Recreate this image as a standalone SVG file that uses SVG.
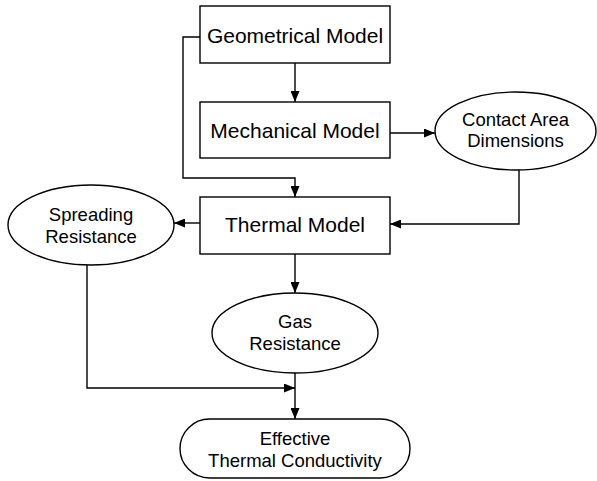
<svg xmlns="http://www.w3.org/2000/svg" width="597" height="481" viewBox="0 0 597 481">
<style>
.n{fill:#fff;stroke:#000;stroke-width:1.4}
.c{fill:none;stroke:#000;stroke-width:1.4}
.t{font-family:"Liberation Sans",Arial,sans-serif;fill:#000;text-anchor:middle}
.big{font-size:21px}
.sm{font-size:18.5px}
</style>
<defs>
<marker id="ah" markerWidth="11" markerHeight="9" refX="11" refY="4.5" orient="auto" markerUnits="userSpaceOnUse">
<path d="M0,0 L11,4.5 L0,9 Z" fill="#000"/>
</marker>
</defs>
<rect width="597" height="481" fill="#fff"/>
<g id="connectors">
<path class="c" d="M295,63 L295,102" marker-end="url(#ah)"/>
<path class="c" d="M200,37 L183,37 L183,178 L295,178 L295,197" marker-end="url(#ah)"/>
<path class="c" d="M390,133 L435,133" marker-end="url(#ah)"/>
<path class="c" d="M519,169 L519,224 L390,224" marker-end="url(#ah)"/>
<path class="c" d="M200,223 L174,223" marker-end="url(#ah)"/>
<path class="c" d="M295,254 L295,293" marker-end="url(#ah)"/>
<path class="c" d="M87,265 L87,388 L295,388" marker-end="url(#ah)"/>
<path class="c" d="M295,373 L295,419" marker-end="url(#ah)"/>
</g>
<g id="geometrical">
<rect class="n" x="200" y="6" width="190" height="57"/>
<text class="t big" x="295" y="42.5">Geometrical Model</text>
</g>
<g id="mechanical">
<rect class="n" x="200" y="102" width="190" height="56"/>
<text class="t big" x="295" y="137.5">Mechanical Model</text>
</g>
<g id="contact">
<ellipse class="n" cx="515.5" cy="131" rx="80.5" ry="39"/>
<text class="t sm" x="515.5" y="126">Contact Area</text>
<text class="t sm" x="515.5" y="147">Dimensions</text>
</g>
<g id="thermal">
<rect class="n" x="200" y="197" width="190" height="57"/>
<text class="t big" x="295" y="231.5">Thermal Model</text>
</g>
<g id="spreading">
<ellipse class="n" cx="91" cy="225" rx="83" ry="40"/>
<text class="t sm" x="91" y="220.5">Spreading</text>
<text class="t sm" x="91" y="243">Resistance</text>
</g>
<g id="gas">
<ellipse class="n" cx="295" cy="333" rx="83" ry="40"/>
<text class="t sm" x="295" y="327.5">Gas</text>
<text class="t sm" x="295" y="350">Resistance</text>
</g>
<g id="effective">
<rect class="n" x="180" y="419" width="230" height="59" rx="29.5"/>
<text class="t sm" x="295" y="445">Effective</text>
<text class="t sm" x="295" y="467">Thermal Conductivity</text>
</g>
</svg>
